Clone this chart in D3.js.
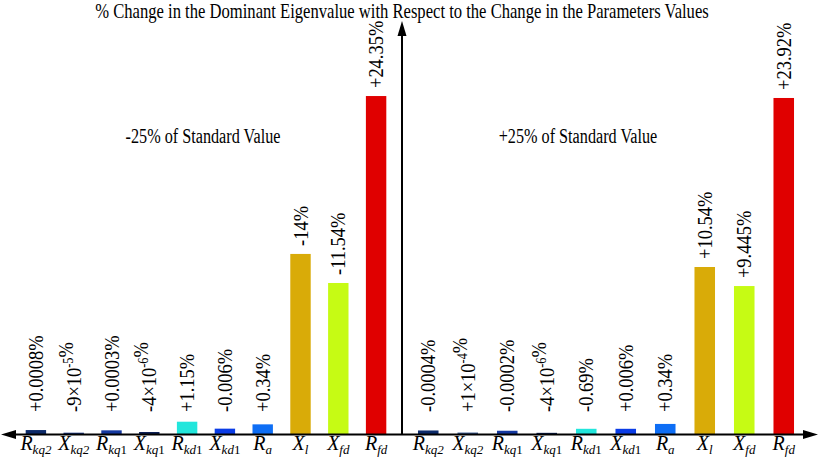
<!DOCTYPE html>
<html>
<head>
<meta charset="utf-8">
<script src="https://cdn.jsdelivr.net/npm/d3@7"></script>
<style>
  html, body { margin: 0; padding: 0; background: #fff; }
  svg text { font-family: "Liberation Serif", Tinos, "Times New Roman", Times, serif; }
</style>
</head>
<body>
<svg id="chart" width="822" height="462"></svg>
<script>
// ---- data ----
const categories = ["Rkq2", "Xkq2", "Rkq1", "Xkq1", "Rkd1", "Xkd1", "Ra", "Xl", "Xfd", "Rfd"];
const tickMain = ["R", "X", "R", "X", "R", "X", "R", "X", "X", "R"];
const tickSub = ["kq2", "kq2", "kq1", "kq1", "kd1", "kd1", "a", "l", "fd", "fd"];
// displayed bar magnitudes (as drawn in the picture, % units)
const leftValues = [0.32, 0.13, 0.30, 0.18, 0.92, 0.42, 0.73, 12.99, 10.9, 24.35];
const rightValues = [0.29, 0.14, 0.27, 0.12, 0.41, 0.41, 0.76, 12.05, 10.68, 24.21];
// value labels; {..} marks a superscript
const leftLabels = ["+0.0008%", "-9×10{-5}%", "+0.0003%", "-4×10{-6}%", "+1.15%", "-0.006%", "+0.34%", "-14%", "-11.54%", "+24.35%"];
const rightLabels = ["-0.0004%", "+1×10{-4}%", "-0.0002%", "-4×10{-6}%", "-0.69%", "+0.006%", "+0.34%", "+10.54%", "+9.445%", "+23.92%"];
const leftColors = ["#0c2a6a", "#1b3680", "#1438a0", "#0d2055", "#22e6dc", "#0a3ce6", "#0e6ef5", "#d9ab08", "#c6fb14", "#e00000"];
const rightColors = ["#0c2a6a", "#3a5a90", "#1438a0", "#0d2055", "#22e6dc", "#0a3ce6", "#0e6ef5", "#d9ab08", "#c6fb14", "#e00000"];
const title = "% Change in the Dominant Eigenvalue with Respect to the Change in the Parameters Values";
const leftNote = "-25% of Standard Value";
const rightNote = "+25% of Standard Value";

// ---- layout ----
const svg = d3.select("#chart");
const baseY = 434.5;
const axisX = 402;

const y = d3.scaleLinear().domain([0, 26]).range([baseY, baseY - 26 * 13.9]);

const xLeft = d3.scaleBand().domain(categories).range([17, 395]).paddingInner(0.46).paddingOuter(0.23);
const xRight = d3.scaleBand().domain(categories).range([408.5, 803.5]).paddingInner(0.48).paddingOuter(0.24);

function drawSide(x, values, labels, colors) {
  const g = svg.append("g");
  g.selectAll("rect").data(categories).join("rect")
    .attr("x", d => x(d))
    .attr("width", x.bandwidth())
    .attr("y", (d, i) => y(values[i]))
    .attr("height", (d, i) => baseY - y(values[i]))
    .attr("fill", (d, i) => colors[i]);

  const lab = g.selectAll("text.val").data(categories).join("text")
    .attr("class", "val")
    .attr("font-size", 21)
    .attr("fill", "#000")
    .attr("transform", (d, i) => {
      const cx = x(d) + x.bandwidth() / 2 + 7;
      const by = Math.min(y(values[i]) - 8, 412);
      return `translate(${cx},${by}) rotate(-90) scale(0.88,1)`;
    });
  lab.each(function (d, i) {
    const t = d3.select(this);
    const parts = labels[i].split(/(\{[^}]*\})/).filter(s => s.length);
    parts.forEach(p => {
      if (p.startsWith("{")) {
        t.append("tspan").attr("font-size", 14).attr("dy", -8).text(p.slice(1, -1));
        t.append("tspan").attr("dy", 8).text("");
      } else {
        t.append("tspan").text(p);
      }
    });
  });

  const tl = g.selectAll("text.tick").data(categories).join("text")
    .attr("class", "tick")
    .attr("x", d => x(d) + x.bandwidth() / 2)
    .attr("y", 450)
    .attr("text-anchor", "middle")
    .attr("fill", "#000");
  tl.each(function (d, i) {
    const t = d3.select(this);
    t.append("tspan").attr("font-size", 20).attr("font-style", "italic").text(tickMain[i]);
    const sub = tickSub[i];
    const m = sub.match(/^(.*?)(1?)$/);
    t.append("tspan").attr("font-size", 13).attr("font-style", "italic").attr("dy", 4).text(m[1]);
    if (m[2]) t.append("tspan").attr("font-size", 13).text(m[2]);
  });
}

drawSide(xLeft, leftValues, leftLabels, leftColors);
drawSide(xRight, rightValues, rightLabels, rightColors);

// axes
svg.append("line").attr("x1", 10).attr("x2", 810).attr("y1", baseY).attr("y2", baseY)
  .attr("stroke", "#000").attr("stroke-width", 2.2);
svg.append("line").attr("x1", axisX).attr("x2", axisX).attr("y1", baseY).attr("y2", 30)
  .attr("stroke", "#000").attr("stroke-width", 2);
svg.append("path").attr("d", `M1,${baseY} L16,${baseY - 4.5} L16,${baseY + 4.5} Z`).attr("fill", "#000");
svg.append("path").attr("d", `M818,${baseY} L803,${baseY - 4.5} L803,${baseY + 4.5} Z`).attr("fill", "#000");
svg.append("path").attr("d", `M${axisX},21 L${axisX - 4.5},36 L${axisX + 4.5},36 Z`).attr("fill", "#000");

// title and notes (condensed serif as in the reference)
function condensedText(cx, cy, size, sx, str) {
  svg.append("text")
    .attr("transform", `translate(${cx},${cy}) scale(${sx},1)`)
    .attr("text-anchor", "middle")
    .attr("font-size", size)
    .attr("fill", "#000")
    .text(str);
}
condensedText(axisX, 18, 20.5, 0.81, title);
condensedText(203, 143, 20, 0.81, leftNote);
condensedText(578, 143, 20, 0.81, rightNote);
</script>
</body>
</html>
